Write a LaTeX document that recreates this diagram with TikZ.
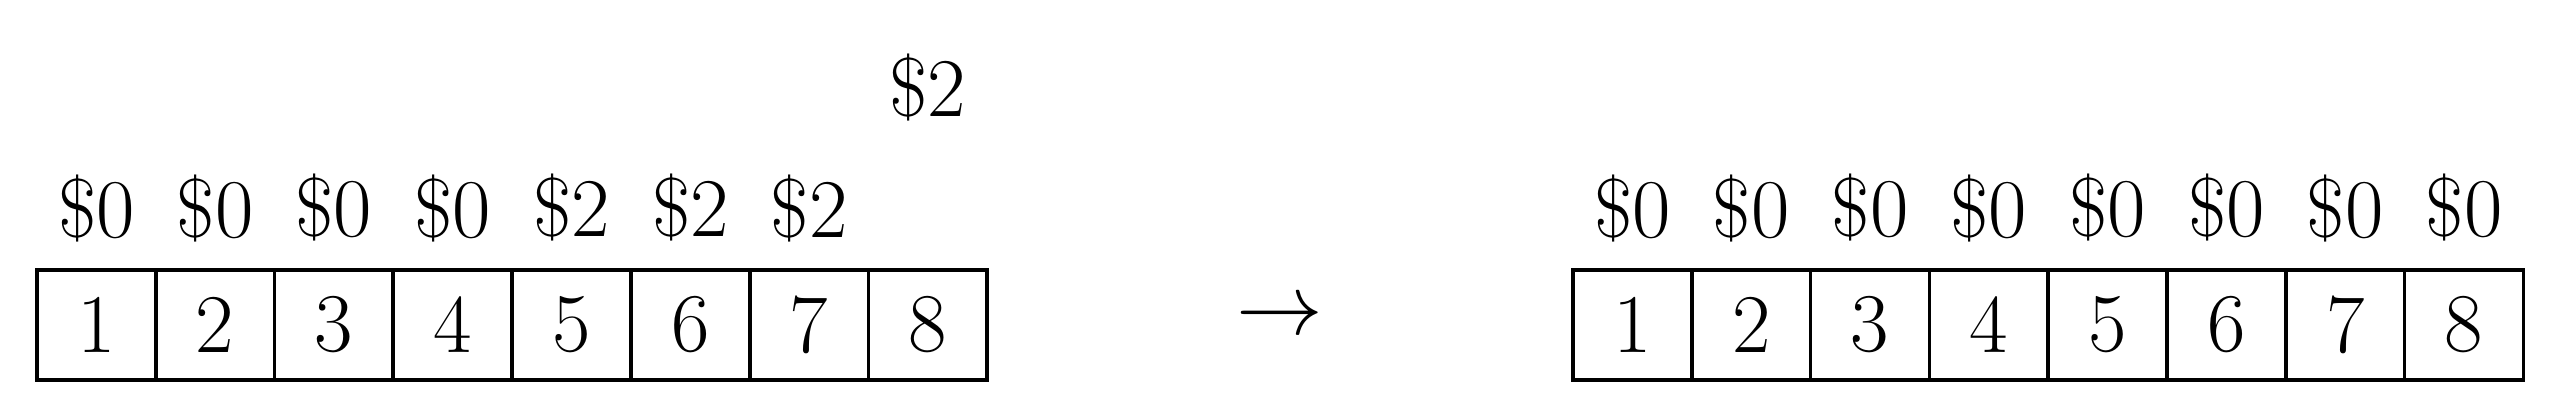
\documentclass[tikz,border=0pt]{standalone}
\usepackage{tikz}
\usetikzlibrary{positioning}
\tikzset{
  cell/.style={rectangle,draw,line width=0.9pt,minimum width=10mm,minimum height=9.26mm,inner sep=0pt,font=\fontsize{20}{24}\selectfont},
  price/.style={inner sep=0pt,font=\fontsize{20}{24}\selectfont}
}
\begin{document}
\begin{tikzpicture}
\useasboundingbox (0,0) rectangle (21.524,3.443);
\foreach \i in {1,...,8}
  \node[cell] (l\i) at (0.311+\i-0.5,0.707) {\i};
\foreach \i/\p in {1/0,2/0,3/0,4/0,5/2,6/2,7/2}
  \node[price,anchor=base] (lp\i) at ([yshift=9.68mm]l\i.base) {\$\p};
\node[price,anchor=base] (top) at ([yshift=19.78mm]l8.base) {\$2};
\node[price] (arrow) at (10.77,0.758) {$\rightarrow$};
\foreach \i in {1,...,8}
  \node[cell] (r\i) at (13.241+\i-0.5,0.707) {\i};
\foreach \i in {1,...,8}
  \node[price,anchor=base] (rp\i) at ([yshift=9.68mm]r\i.base) {\$0};
\end{tikzpicture}
\end{document}
